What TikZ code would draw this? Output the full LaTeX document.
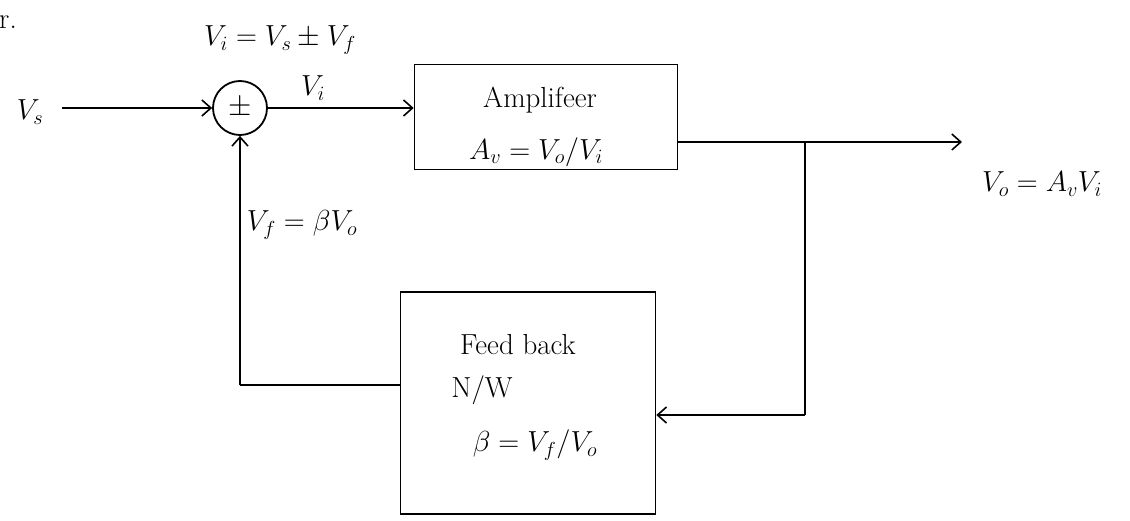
\RequirePackage{fix-cm}
\documentclass[tikz,border=0pt]{standalone}
\usetikzlibrary{arrows.meta}
\begin{document}
\begin{tikzpicture}[x=1pt,y=-1pt,
  wire/.style={line width=1.6pt},
  arr/.style={wire,-{Straight Barb[length=9pt,width=16pt,line width=1.6pt]}},
  blockbox/.style={draw,line width=1.6pt,rectangle,inner sep=0pt},
  lbl/.style={font=\fontsize{29}{33}\selectfont,inner sep=1pt}]
\useasboundingbox (0,0) rectangle (1130,521);
% blocks
\node[draw,line width=1.8pt,circle,minimum size=54pt,inner sep=0pt,font=\fontsize{30}{32}\selectfont] (sum) at (240,108) {$\pm$};
\node[blockbox,minimum width=263pt,minimum height=105pt] (amp) at (546,117) {};
\node[blockbox,minimum width=255pt,minimum height=222pt] (fb) at (528,403) {};
% coordinates
\coordinate (vsin) at (62,108);
\coordinate (j) at (805,142);
\coordinate (out) at (962,142);
\coordinate (fbr) at (805,415);
\coordinate (fbl) at (240,385);
% connectors
\draw[arr] (vsin) -- (sum.west);
\draw[arr] (sum.east) -- (amp.west |- sum);
\draw[wire] (amp.east |- j) -- (j);
\draw[arr] (j) -- (out);
\draw[wire] (j) -- (fbr);
\draw[arr] (fbr) -- (fb.east |- fbr);
\draw[wire] (fb.west |- fbl) -- (fbl);
\draw[arr] (fbl) -- (sum.south);
% labels
\node[lbl] (tr) at (8,22) {r.};
\node[lbl] (lvs) at (30,112) {$V_s$};
\node[lbl] (lsum) at (280,40) {$V_i = V_s \pm V_f$};
\node[lbl] (lvi) at (313,88) {$V_i$};
\node[lbl] (lamp1) at (540,100) {Amplifeer};
\node[lbl] (lamp2) at (536,152) {$A_v = V_o/V_i$};
\node[lbl] (lout) at (1042,184) {$V_o = A_v V_i$};
\node[lbl] (lvf) at (302,225) {$V_f = \beta V_o$};
\node[lbl] (lfb1) at (518,345) {Feed back};
\node[lbl] (lfb2) at (482,390) {N/W};
\node[lbl] (lfb3) at (535,445) {$\beta = V_f/V_o$};
\end{tikzpicture}
\end{document}
